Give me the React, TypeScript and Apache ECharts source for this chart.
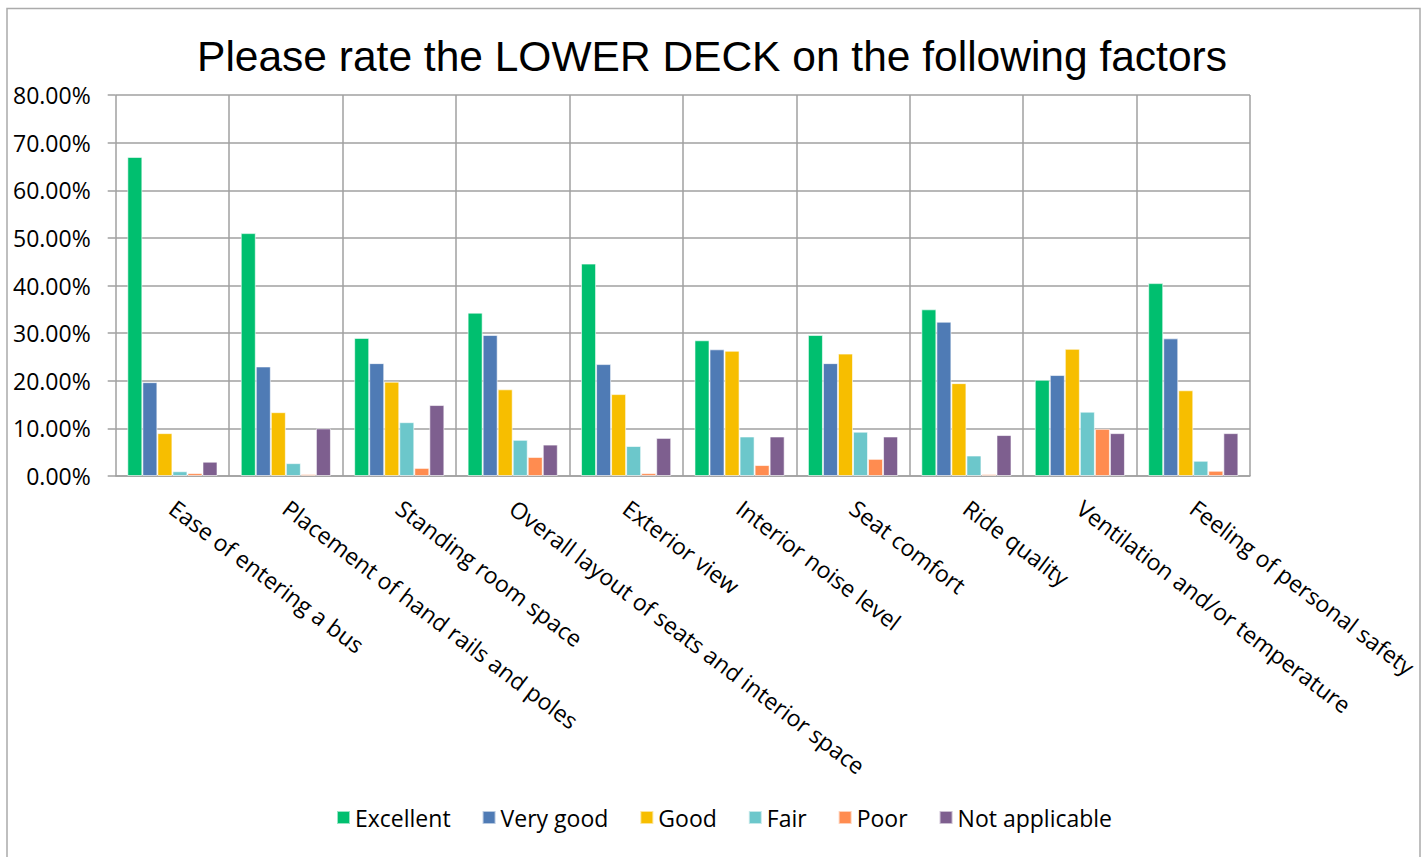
import React, { useEffect, useRef } from "react";
import * as echarts from "echarts";

const categories = [
  "Ease of entering a bus",
  "Placement of hand rails and poles",
  "Standing room space",
  "Overall layout of seats and interior space",
  "Exterior view",
  "Interior noise level",
  "Seat comfort",
  "Ride quality",
  "Ventilation and/or temperature",
  "Feeling of personal safety",
];

const excellent = [67.0, 51.0, 29.0, 34.3, 44.6, 28.5, 29.6, 35.0, 20.2, 40.5];
const veryGood = [19.7, 23.0, 23.7, 29.6, 23.5, 26.6, 23.7, 32.4, 21.2, 28.9];
const good = [9.0, 13.4, 19.8, 18.2, 17.2, 26.3, 25.7, 19.5, 26.7, 18.0];
const fair = [1.0, 2.7, 11.3, 7.6, 6.3, 8.3, 9.3, 4.3, 13.5, 3.2];
const poor = [0.6, 0.4, 1.7, 4.0, 0.6, 2.3, 3.6, 0.4, 9.9, 1.1];
const notApplicable = [3.0, 10.0, 14.9, 6.6, 8.0, 8.3, 8.3, 8.6, 9.0, 9.0];

const seriesNames = ["Excellent", "Very good", "Good", "Fair", "Poor", "Not applicable"];
const seriesColors = ["#00BF6F", "#4F7BB5", "#F7BE00", "#6CC7CB", "#FF8C50", "#7E5F8F"];
const seriesData = [excellent, veryGood, good, fair, poor, notApplicable];

const title = "Please rate the LOWER DECK on the following factors";

export default function App() {
  const ref = useRef<HTMLDivElement>(null);

  useEffect(() => {
    document.body.style.margin = "0";
    const chart = echarts.init(ref.current!, null, { renderer: "svg" });
    const gridColor = "#a0a0a0";
    const font = "'Open Sans', sans-serif";
    chart.setOption({
      animation: false,
      backgroundColor: "#ffffff",
      title: {
        text: title,
        left: "center",
        top: 30,
        textStyle: {
          fontFamily: "'Liberation Sans', Arial, sans-serif",
          fontSize: 42.5,
          fontWeight: "normal",
          color: "#000000",
        },
      },
      graphic: [
        {
          type: "rect",
          shape: { x: 7, y: 8.5, width: 1413, height: 900 },
          style: { fill: "none", stroke: "#ababab", lineWidth: 1.5 },
          silent: true,
        },
      ],
      legend: {
        data: seriesNames,
        bottom: 23,
        left: 331,
        itemWidth: 13,
        itemHeight: 13,
        itemGap: 31,
        icon: "rect",
        textStyle: { fontFamily: font, fontSize: 23, color: "#000000" },
      },
      grid: { left: 115.7, right: 174, top: 95, bottom: 381 },
      xAxis: {
        type: "category",
        data: categories,
        axisLine: { show: true, lineStyle: { color: gridColor, width: 1.5 } },
        axisTick: { show: false },
        splitLine: { show: true, lineStyle: { color: gridColor, width: 1.5 } },
        axisLabel: {
          interval: 0,
          rotate: -37,
          margin: 29,
          fontFamily: font,
          fontSize: 23,
          color: "#000000",
        },
      },
      yAxis: {
        type: "value",
        min: 0,
        max: 80,
        interval: 10,
        axisLine: { show: false },
        axisTick: { show: true, length: 8, lineStyle: { color: gridColor, width: 1.5 } },
        splitLine: { show: true, lineStyle: { color: gridColor, width: 1.5 } },
        axisLabel: {
          margin: 25,
          fontFamily: font,
          fontSize: 23,
          color: "#000000",
          formatter: (v: number) => v.toFixed(2) + "%",
        },
      },
      series: seriesNames.map((name, i) => ({
        name,
        type: "bar",
        data: seriesData[i],
        barGap: "0%",
        barCategoryGap: "20.5%",
        itemStyle: { color: seriesColors[i], borderColor: "rgba(255,255,255,0.6)", borderWidth: 1 },
      })),
    });
    return () => chart.dispose();
  }, []);

  return <div ref={ref} style={{ width: 1424, height: 857 }} />;
}
